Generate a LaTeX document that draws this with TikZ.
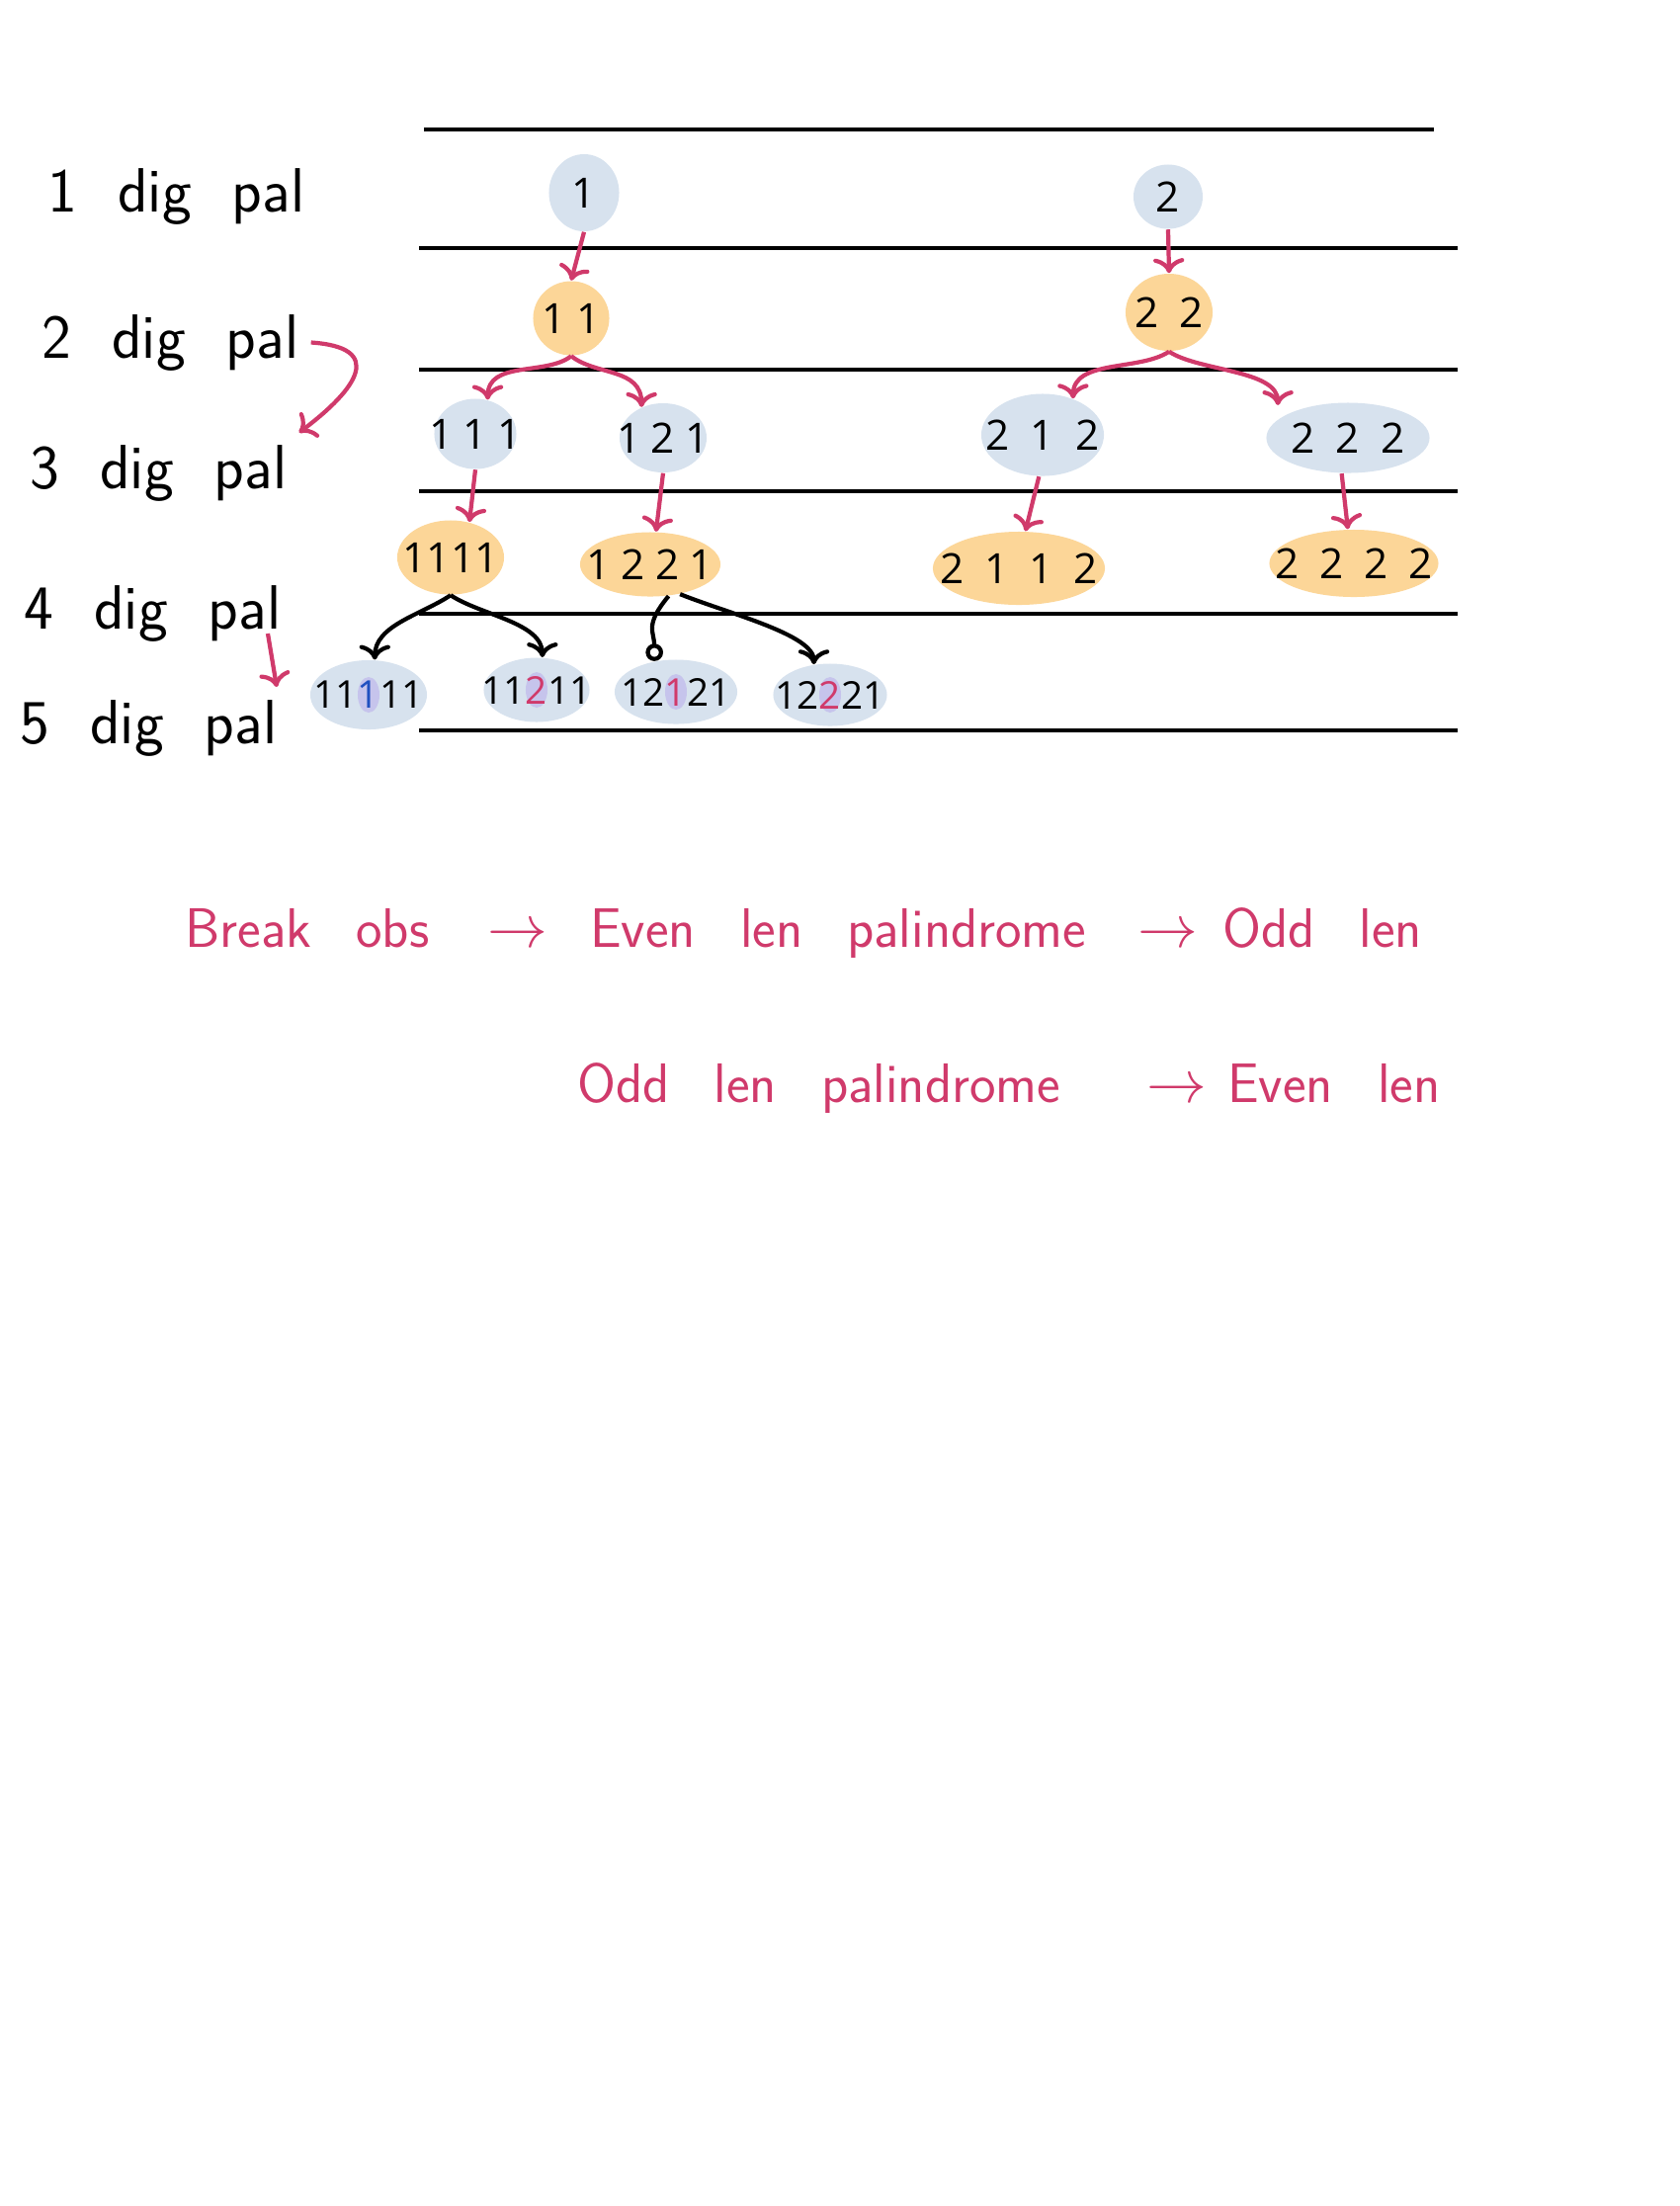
\documentclass[tikz,border=0pt]{standalone}
\usepackage{fontspec}
\usetikzlibrary{shapes.geometric,arrows.meta}

\newfontfamily\digitfont{Open Sans}
\definecolor{palred}{RGB}{208,58,107}
\definecolor{blobblue}{RGB}{215,226,238}
\definecolor{bloborange}{RGB}{252,214,152}
\definecolor{hlpurple}{RGB}{198,196,236}
\definecolor{digblue}{RGB}{32,80,192}
\newcommand\rowlabelfont{\sffamily\fontsize{18}{21}\selectfont\spaceskip=0.65em\relax}
\newcommand\notefont{\sffamily\fontsize{16}{19}\selectfont\spaceskip=0.8em\relax}
\newcommand\dg{\hspace{0.25em}}
\newcommand\dG{\hspace{0.5em}}

\begin{document}
\begin{tikzpicture}[x=0.01cm,y=-0.01cm,
    every node/.style={font=\sffamily},
    blueblob/.style={ellipse,fill=blobblue,inner sep=0pt},
    orangeblob/.style={ellipse,fill=bloborange,inner sep=0pt},
    digits/.style={font=\digitfont\fontsize{12}{14}\selectfont},
    smalldigits/.style={font=\digitfont\fontsize{11}{13}\selectfont},
    midmark/.style={path picture={\fill[hlpurple] ([xshift=#1]path picture bounding box.center) ellipse (0.11cm and 0.18cm);}},
    lbl/.style={anchor=base west,font=\rowlabelfont},
    note/.style={anchor=base west,text=palred,font=\notefont},
    redarr/.style={->,draw=palred,line width=1.2pt},
    blackarr/.style={->,line width=1.2pt},
    rule/.style={line width=1.3pt}]

\fill[white] (0,0) rectangle (1700,2232);
\useasboundingbox (0,0) rectangle (1700,2232);

% Rows
\draw[rule] (429,131) -- (1451,131);
\foreach \y in {251,374,497,621,739} {
    \draw[rule] (424,\y) -- (1475,\y);
}

% Row labels
\node[lbl] (l1) at (36,214) {1 dig pal};
\node[lbl] (l2) at (30,362) {2 dig pal};
\node[lbl] (l3) at (18,494) {3 dig pal};
\node[lbl] (l4) at (12,636) {4 dig pal};
\node[lbl] (l5) at (8,752) {5 dig pal};

% 1 digit
\node[blueblob,minimum width=0.71cm,minimum height=0.78cm,label={[digits]center:1}] (n1) at (591,195) {};
\node[blueblob,minimum width=0.70cm,minimum height=0.65cm,label={[digits]center:2}] (n2) at (1182,199) {};

% 2 digits
\node[orangeblob,minimum width=0.77cm,minimum height=0.75cm,label={[digits]center:1\dg1}] (n11) at (578,322) {};
\node[orangeblob,minimum width=0.88cm,minimum height=0.78cm,label={[digits]center:2\dG2}] (n22) at (1183,316) {};

% 3 digits
\node[blueblob,minimum width=0.83cm,minimum height=0.71cm,label={[digits]center:1\dg1\dg1}] (n111) at (481,439) {};
\node[blueblob,minimum width=0.88cm,minimum height=0.70cm,label={[digits]center:1\dg2\dg1}] (n121) at (671,443) {};
\node[blueblob,minimum width=1.24cm,minimum height=0.83cm,label={[digits]center:2\dG1\dG2}] (n212) at (1055,440) {};
\node[blueblob,minimum width=1.65cm,minimum height=0.71cm,label={[digits]center:2\dG2\dG2}] (n222) at (1364,443) {};

% 4 digits
\node[orangeblob,minimum width=1.08cm,minimum height=0.75cm,label={[digits]center:1111}] (n1111) at (456,564) {};
\node[orangeblob,minimum width=1.42cm,minimum height=0.65cm,label={[digits]center:1\dg2\dg2\dg1}] (n1221) at (658,571) {};
\node[orangeblob,minimum width=1.74cm,minimum height=0.74cm,label={[digits]center:2\dG1\dG1\dG2}] (n2112) at (1031,575) {};
\node[orangeblob,minimum width=1.71cm,minimum height=0.68cm,label={[digits]center:2\dG2\dG2\dG2}] (n2222) at (1370,570) {};

% 5 digits
\node[blueblob,midmark=0pt,minimum width=1.18cm,minimum height=0.70cm,label={[smalldigits]center:11{\color{digblue}1}11}] (n11111) at (373,703) {};
\node[blueblob,midmark=0pt,minimum width=1.07cm,minimum height=0.65cm,label={[smalldigits]center:11{\color{palred}2}11}] (n11211) at (543,698) {};
\node[blueblob,midmark=0pt,minimum width=1.24cm,minimum height=0.65cm,label={[smalldigits]center:12{\color{palred}1}21}] (n12121) at (684,700) {};
\node[blueblob,midmark=0pt,minimum width=1.15cm,minimum height=0.63cm,label={[smalldigits]center:12{\color{palred}2}21}] (n12221) at (840,703) {};

% Red arrows
\draw[redarr] (n1.south) -- (n11.north);
\draw[redarr] (n2.south) -- (n22.north);
\draw[redarr] (n11.south) .. controls +(-25,20) and +(0,-40) .. (n111.70);
\draw[redarr] (n11.south) .. controls +(25,20) and +(0,-40) .. (n121.125);
\draw[redarr] (n22.south) .. controls +(-30,20) and +(0,-40) .. (n212.50);
\draw[redarr,shorten >=4pt] (n22.south) .. controls +(30,20) and +(0,-50) .. (n222.165);
\draw[redarr] (n111.south) -- (n1111.62);
\draw[redarr] (n121.south) -- (n1221.80);
\draw[redarr] (n212.265) -- (n2112.80);
\draw[redarr] (n222.260) -- (n2222.100);

% Black arrows
\draw[blackarr] (n1111.south) .. controls +(-30,20) and +(0,-35) .. (n11111.80);
\draw[blackarr] (n1111.south) .. controls +(30,20) and +(0,-35) .. (n11211.80);
\draw[blackarr,-{Circle[open,length=5pt]}] (n1221.300) .. controls +(-25,30) and +(0,-30) .. (n12121.125);
\draw[blackarr] (n1221.315) .. controls +(50,20) and +(0,-30) .. (n12221.118);

% Side arrows
\draw[redarr] (l2.east) .. controls +(75,5) and +(60,-45) .. (l3.north east);
\coordinate (d4) at (271,641);
\coordinate (d5) at (280,695);
\draw[redarr] (d4) -- (d5);

% Notes
\node[note] (b1) at (175,958) {Break obs};
\node[note] (b2) at (481,958) {$\rightarrow$};
\node[note] (b3) at (585,958) {Even len palindrome};
\node[note] (b4) at (1139,958) {$\rightarrow$};
\node[note] (b5) at (1225,958) {Odd len};
\node[note] (c1) at (572,1115) {Odd len palindrome};
\node[note] (c2) at (1148,1115) {$\rightarrow$};
\node[note] (c3) at (1230,1115) {Even len};
\end{tikzpicture}
\end{document}
